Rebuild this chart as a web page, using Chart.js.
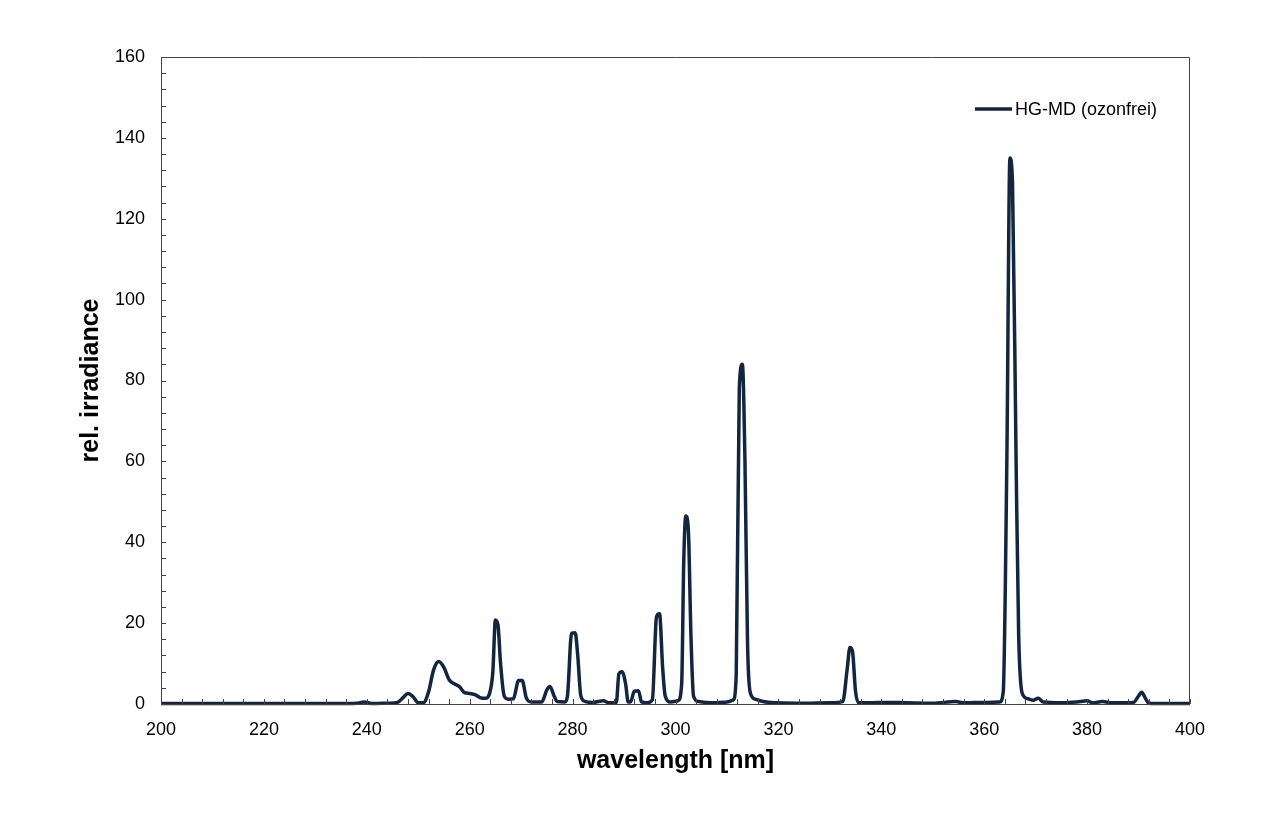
<!DOCTYPE html>
<html>
<head>
<meta charset="utf-8">
<script src="https://cdn.jsdelivr.net/npm/chart.js@4.4.0/dist/chart.umd.min.js"></script>
<style>
  html, body { margin: 0; padding: 0; background: #ffffff; }
  #wrap { width: 1280px; height: 828px; position: relative; }
</style>
</head>
<body>
<div id="wrap"><canvas id="c"></canvas></div>
<script>
// ---- data ----
const seriesName = "HG-MD (ozonfrei)";
const wavelength = [
  200, 210, 220, 230, 235, 238, 239.5, 241, 244, 246, 247, 248, 249, 250, 251,
  252, 253, 254, 255, 256, 257, 258, 259, 260, 261, 262, 263, 264, 264.5, 265,
  265.5, 266, 266.7, 267.5, 268.5, 269.5, 270.2, 271, 272, 274, 275, 275.6, 276.4,
  277, 278.5, 279, 279.8, 280.5, 281, 281.6, 282.5, 284, 286, 287, 288.5, 289,
  289.6, 290.3, 290.8, 291.3, 292, 292.8, 293.4, 294.5, 295.5, 296.3, 296.9, 297.5,
  298, 299, 300.5, 301.2, 301.6, 302, 302.5, 303, 303.5, 304.5, 306, 308, 310,
  311.2, 311.8, 312.4, 313, 313.5, 314, 314.5, 315.5, 317, 320, 325, 330, 332.5,
  333.4, 333.9, 334.4, 335, 335.6, 338, 340, 345, 350, 354.5, 356, 360, 363,
  363.7, 364.4, 365, 365.5, 366.2, 366.7, 367.4, 368.5, 369.5, 370.5, 371.5,
  375, 378, 380, 381, 383, 385, 389, 390, 390.6, 391.3, 392, 395, 400
];
const irradiance = [
  0.1, 0.1, 0.1, 0.1, 0.1, 0.2, 0.5, 0.1, 0.2, 0.4, 1.5, 2.6, 1.8, 0.3, 0.3,
  3.0, 8.5, 10.5, 9.0, 6.0, 5.0, 4.3, 2.8, 2.6, 2.3, 1.6, 1.4, 3.3, 8.0, 20.8,
  19.5, 10.0, 2.0, 1.2, 1.3, 5.8, 5.8, 1.5, 0.5, 0.5, 3.5, 4.3, 2.0,
  0.6, 0.5, 2.0, 17.5, 17.6, 12.0, 2.0, 0.6, 0.4, 0.8, 0.3, 0.4, 7.5,
  8.0, 5.0, 0.5, 0.6, 3.2, 3.3, 0.5, 0.3, 1.0, 21.5, 22.3, 9.0,
  2.0, 0.5, 0.8, 5.0, 35.0, 46.5, 43.0, 17.0, 2.0, 0.6, 0.4, 0.3, 0.5,
  1.0, 7.0, 78.0, 84.0, 60.0, 15.0, 3.0, 1.2, 0.6, 0.3, 0.2, 0.3, 0.6,
  9.0, 14.0, 13.0, 3.0, 0.3, 0.3, 0.4, 0.3, 0.2, 0.6, 0.3, 0.4, 0.5,
  3.0, 60.0, 135.0, 129.0, 60.0, 17.0, 2.6, 1.3, 0.9, 1.4, 0.5,
  0.3, 0.5, 0.8, 0.3, 0.6, 0.3, 0.4, 2.0, 2.9, 1.5, 0.2, 0.1, 0.1
];
const xTickRange = [200, 400, 20];   // min, max, step
const yTickRange = [0, 160, 20];
const xMinorStep = 4;
const yMinorStep = 4;
const xTitle = "wavelength [nm]";
const yTitle = "rel. irradiance";

const lineColor = "#132640";
const FONT = "'Liberation Sans', Arial, sans-serif";

const points = wavelength.map((w, i) => ({ x: w, y: irradiance[i] }));

// inward ticks, frame and in-plot legend
const decorations = {
  id: "decorations",
  afterDraw(chart) {
    const { ctx, chartArea: a, scales } = chart;
    ctx.save();
    ctx.strokeStyle = "#444";
    ctx.lineWidth = 1;
    ctx.beginPath();
    ctx.rect(a.left + 0.5, a.top + 0.5, a.right - a.left - 1, a.bottom - a.top);
    ctx.stroke();
    ctx.beginPath();
    for (let v = yTickRange[0]; v <= yTickRange[1]; v += yMinorStep) {
      const py = Math.round(scales.y.getPixelForValue(v)) + 0.5;
      ctx.moveTo(a.left, py);
      ctx.lineTo(a.left + 5, py);
    }
    for (let v = xTickRange[0]; v <= xTickRange[1]; v += xMinorStep) {
      const px = Math.round(scales.x.getPixelForValue(v)) + 0.5;
      ctx.moveTo(px, a.bottom);
      ctx.lineTo(px, a.bottom - 5);
    }
    ctx.stroke();
    ctx.restore();
  },
  afterDatasetsDraw(chart) {
    const { ctx, chartArea: a } = chart;
    ctx.save();
    const lx = a.right - 215, ly = a.top + 52;
    ctx.strokeStyle = lineColor;
    ctx.lineWidth = 3.5;
    ctx.beginPath();
    ctx.moveTo(lx, ly);
    ctx.lineTo(lx + 37, ly);
    ctx.stroke();
    ctx.fillStyle = "#000";
    ctx.font = "18px " + FONT;
    ctx.textBaseline = "middle";
    ctx.textAlign = "left";
    ctx.fillText(chart.data.datasets[0].label, lx + 40, ly + 1);
    ctx.restore();
  }
};

new Chart(document.getElementById("c"), {
  type: "line",
  data: {
    datasets: [{
      label: seriesName,
      data: points,
      borderColor: lineColor,
      borderWidth: 3.5,
      pointRadius: 0,
      fill: false,
      cubicInterpolationMode: "monotone",
      clip: 6
    }]
  },
  options: {
    responsive: true,
    maintainAspectRatio: false,
    devicePixelRatio: 1,
    animation: false,
    layout: { padding: { left: 72, right: 90, top: 57, bottom: 48 } },
    plugins: { legend: { display: false }, tooltip: { enabled: false } },
    scales: {
      x: {
        type: "linear",
        min: xTickRange[0], max: xTickRange[1],
        ticks: { stepSize: xTickRange[2], color: "#000", font: { family: FONT, size: 18 }, padding: 15, maxRotation: 0 },
        grid: { display: false, drawTicks: false },
        border: { display: false },
        title: { display: true, text: xTitle, color: "#000", font: { family: FONT, size: 25, weight: "bold" }, padding: { top: 4, bottom: 4 } },
        afterFit(s) { s.height = 76; }
      },
      y: {
        type: "linear",
        min: yTickRange[0], max: yTickRange[1],
        ticks: { stepSize: yTickRange[2], color: "#000", font: { family: FONT, size: 18 }, padding: 16 },
        grid: { display: false, drawTicks: false },
        border: { display: false },
        title: { display: true, text: yTitle, color: "#000", font: { family: FONT, size: 25, weight: "bold" }, padding: { top: 4, bottom: 4 } },
        afterFit(s) { s.width = 89; }
      }
    }
  },
  plugins: [decorations]
});
</script>
</body>
</html>
